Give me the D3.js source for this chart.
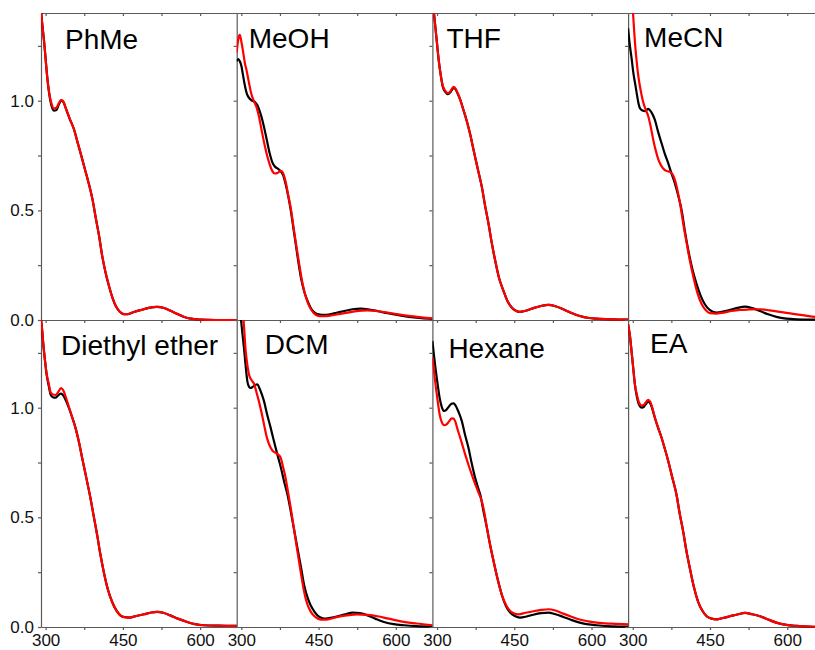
<!DOCTYPE html>
<html>
<head>
<meta charset="utf-8">
<script src="https://cdn.jsdelivr.net/npm/d3@7"></script>
<style>
  body { margin: 0; background: #fff; }
  svg { display: block; font-family: "Liberation Sans", Arial, sans-serif; }
</style>
</head>
<body>
<div id="chart"></div>
<script>
// DATA (wavelength nm, absorbance)
const solvents = ["PhMe", "MeOH", "THF", "MeCN", "Diethyl ether", "DCM", "Hexane", "EA"];

const phmeBlack = [[289,1.46],[293,1.36],[297,1.27],[300,1.19],[303,1.11],[307,1.03],[311,0.98],[316,0.955],[321,0.958],[326,0.985],[330,1.0],[334,0.995],[340,0.96],[348,0.91],[355,0.87],[362,0.81],[368,0.76],[376,0.69],[384,0.62],[391,0.55],[397,0.47],[404,0.38],[410,0.29],[416,0.22],[423,0.155],[430,0.10],[437,0.06],[444,0.038],[452,0.027],[460,0.027],[470,0.035],[484,0.045],[500,0.055],[516,0.06],[530,0.055],[542,0.043],[555,0.028],[568,0.015],[582,0.006],[600,0.002],[630,0],[672,0]];
const phmeRed = [[289,1.46],[293,1.36],[297,1.27],[300,1.19],[303,1.11],[307,1.035],[311,0.99],[316,0.965],[321,0.968],[326,0.99],[330,1.003],[334,0.998],[340,0.96],[348,0.91],[355,0.87],[362,0.81],[368,0.76],[376,0.69],[384,0.62],[391,0.55],[397,0.47],[404,0.38],[410,0.29],[416,0.22],[423,0.155],[430,0.10],[437,0.06],[444,0.038],[452,0.027],[460,0.027],[470,0.035],[484,0.045],[500,0.055],[516,0.06],[530,0.055],[542,0.043],[555,0.028],[568,0.015],[582,0.006],[600,0.002],[630,0],[672,0]];

const meohBlack = [[291,1.18],[294,1.19],[297,1.18],[300,1.16],[303,1.12],[306,1.08],[311,1.03],[316,1.01],[321,1.0],[326,0.995],[331,0.98],[336,0.95],[341,0.91],[345,0.87],[350,0.815],[355,0.76],[360,0.72],[365,0.70],[371,0.69],[377,0.677],[382,0.655],[386,0.62],[391,0.565],[396,0.50],[401,0.42],[406,0.34],[411,0.26],[416,0.19],[422,0.13],[429,0.085],[436,0.05],[443,0.033],[450,0.026],[460,0.023],[470,0.025],[485,0.033],[500,0.041],[516,0.049],[532,0.052],[548,0.048],[564,0.041],[584,0.031],[603,0.023],[630,0.013],[650,0.008],[672,0.005]];
const meohRed = [[291,1.22],[294,1.28],[297,1.30],[300,1.27],[303,1.23],[307,1.17],[310,1.14],[315,1.08],[319,1.035],[324,1.0],[329,0.974],[334,0.93],[339,0.87],[345,0.80],[350,0.75],[355,0.71],[360,0.68],[365,0.668],[371,0.672],[377,0.68],[381,0.67],[386,0.63],[391,0.57],[396,0.51],[401,0.43],[406,0.35],[412,0.26],[419,0.165],[426,0.10],[432,0.062],[440,0.033],[448,0.02],[458,0.017],[470,0.019],[485,0.025],[500,0.031],[520,0.039],[545,0.044],[565,0.04],[584,0.034],[605,0.026],[629,0.018],[650,0.012],[672,0.008]];

const thfBlack = [[290,1.48],[294,1.40],[297,1.33],[300,1.26],[303,1.19],[307,1.12],[311,1.065],[316,1.04],[321,1.03],[325,1.036],[329,1.05],[332,1.058],[336,1.052],[340,1.033],[345,1.005],[351,0.96],[358,0.905],[364,0.85],[371,0.775],[379,0.69],[387,0.607],[393,0.525],[400,0.439],[406,0.355],[413,0.27],[420,0.195],[429,0.133],[437,0.085],[445,0.057],[453,0.042],[461,0.037],[472,0.042],[487,0.054],[502,0.064],[516,0.069],[530,0.063],[545,0.049],[560,0.033],[577,0.018],[595,0.009],[610,0.006],[640,0.003],[672,0.0015]];
const thfRed = [[290,1.48],[294,1.40],[297,1.33],[300,1.26],[303,1.19],[307,1.12],[311,1.07],[316,1.045],[321,1.035],[325,1.04],[329,1.055],[332,1.063],[336,1.055],[340,1.035],[345,1.005],[351,0.96],[358,0.905],[364,0.85],[371,0.775],[379,0.69],[387,0.607],[393,0.525],[400,0.439],[406,0.355],[413,0.27],[420,0.195],[429,0.133],[437,0.085],[445,0.057],[453,0.042],[461,0.037],[472,0.042],[487,0.054],[502,0.064],[516,0.069],[530,0.063],[545,0.049],[560,0.033],[577,0.018],[595,0.009],[610,0.006],[640,0.003],[672,0.0015]];

const mecnBlack = [[291,1.33],[294,1.26],[298,1.19],[301,1.13],[304.5,1.08],[308,1.03],[311,0.99],[314,0.966],[319,0.955],[324,0.952],[327,0.958],[330,0.963],[334,0.955],[338,0.94],[343,0.913],[349,0.86],[356,0.806],[362,0.76],[369,0.714],[375,0.67],[382,0.622],[388,0.57],[395,0.50],[401,0.41],[408,0.317],[416,0.23],[424,0.164],[432,0.11],[440,0.072],[450,0.045],[463,0.034],[475,0.038],[489,0.046],[503,0.055],[518,0.061],[532,0.054],[547,0.041],[563,0.026],[579,0.014],[598,0.006],[618,0.003],[654,0.0015],[672,0.001]];
const mecnRed = [[291,1.75],[296,1.55],[300,1.42],[304.5,1.26],[308,1.17],[311,1.11],[316,1.04],[320.7,0.99],[325,0.96],[330,0.93],[335,0.88],[340,0.82],[345,0.77],[350,0.73],[355,0.705],[359.5,0.69],[365,0.68],[372,0.676],[377,0.665],[382,0.638],[387,0.59],[392,0.53],[398,0.44],[405,0.347],[411,0.27],[418,0.194],[426,0.12],[434,0.072],[442,0.045],[450,0.031],[462,0.029],[476,0.034],[492,0.041],[508,0.046],[527,0.048],[547,0.049],[566,0.044],[586,0.037],[602,0.031],[618,0.026],[636,0.02],[654,0.014],[672,0.01]];

const etherBlack = [[290,1.42],[293,1.36],[295.5,1.29],[299,1.21],[302,1.15],[306,1.10],[309.7,1.06],[314,1.048],[319,1.046],[324,1.055],[329,1.064],[333,1.06],[338,1.04],[345,1.0],[351,0.96],[358,0.908],[364,0.85],[371,0.77],[379,0.68],[387,0.588],[393,0.51],[400,0.42],[406,0.335],[413,0.25],[421,0.17],[429,0.115],[437,0.077],[445,0.053],[453,0.045],[462,0.043],[476,0.05],[491,0.058],[505,0.066],[516,0.069],[530,0.064],[542,0.053],[558,0.037],[575,0.023],[590,0.013],[607,0.008],[635,0.006],[672,0.005]];
const etherRed = [[290,1.42],[293,1.36],[295.5,1.29],[299,1.21],[302,1.155],[306,1.11],[309.7,1.07],[314,1.06],[319,1.058],[324,1.07],[330,1.089],[334,1.08],[339,1.05],[345,1.005],[351,0.96],[358,0.908],[364,0.85],[371,0.77],[379,0.68],[387,0.588],[393,0.51],[400,0.42],[406,0.335],[413,0.25],[421,0.17],[429,0.115],[437,0.077],[445,0.053],[453,0.045],[462,0.043],[476,0.05],[491,0.058],[505,0.066],[516,0.069],[530,0.064],[542,0.053],[558,0.037],[575,0.023],[590,0.013],[607,0.008],[635,0.006],[672,0.005]];

const dcmBlack = [[291,1.62],[295,1.51],[299,1.41],[302,1.34],[305,1.275],[308,1.2],[311.7,1.12],[315,1.095],[318,1.09],[322,1.095],[327,1.104],[331,1.107],[335,1.09],[340,1.06],[344,1.03],[350,0.97],[357,0.908],[363,0.85],[370,0.786],[377,0.725],[383,0.664],[390,0.60],[396,0.527],[402,0.45],[409,0.359],[416,0.27],[422,0.19],[430,0.125],[438,0.084],[447,0.055],[455,0.042],[461,0.038],[473,0.042],[487,0.049],[502,0.058],[516,0.066],[530,0.063],[545,0.053],[561,0.037],[577,0.023],[596,0.013],[616,0.008],[640,0.004],[672,0.002]];
const dcmRed = [[291,1.8],[296,1.62],[300,1.5],[304,1.41],[308.4,1.26],[312,1.19],[315,1.15],[320,1.125],[325,1.107],[330,1.065],[334,1.03],[339,0.98],[344,0.924],[350,0.86],[357,0.817],[362,0.80],[367,0.794],[372,0.785],[376.5,0.771],[381,0.73],[386,0.679],[391,0.61],[396,0.542],[402,0.45],[409,0.344],[416,0.24],[422,0.16],[428,0.105],[435,0.069],[444,0.045],[454,0.034],[465,0.034],[477,0.04],[487,0.046],[505,0.053],[525,0.058],[545,0.055],[564,0.049],[586,0.038],[610,0.026],[640,0.016],[672,0.008]];

const hexaneBlack = [[291,1.305],[294,1.24],[297,1.18],[301,1.11],[305,1.046],[309,1.005],[313,0.985],[318,0.99],[323,1.005],[328,1.018],[332,1.02],[336,1.01],[341,0.985],[348,0.94],[354,0.88],[361,0.817],[367,0.75],[374,0.68],[379,0.64],[384,0.603],[390,0.53],[397,0.45],[403,0.375],[410,0.298],[418,0.215],[426,0.145],[434,0.095],[442,0.066],[451,0.05],[461,0.043],[474,0.048],[487,0.056],[502,0.063],[516,0.066],[530,0.058],[545,0.046],[561,0.032],[577,0.02],[594,0.012],[610,0.008],[640,0.003],[672,0.0015]];
const hexaneRed = [[291,1.229],[294,1.17],[297,1.107],[301,1.035],[305,0.97],[309,0.935],[314,0.92],[319,0.925],[324,0.94],[328,0.95],[331,0.951],[335,0.94],[340,0.90],[345,0.863],[353,0.80],[361,0.74],[369,0.685],[377,0.634],[382,0.605],[387,0.573],[392,0.52],[397,0.45],[403,0.375],[410,0.298],[418,0.215],[426,0.145],[434,0.10],[442,0.073],[450,0.062],[458,0.058],[472,0.065],[487,0.072],[502,0.078],[516,0.081],[530,0.075],[545,0.061],[561,0.047],[577,0.034],[594,0.026],[610,0.02],[640,0.015],[672,0.012]];

const eaBlack = [[291,1.38],[295,1.32],[298,1.25],[301,1.18],[304,1.11],[308,1.05],[312,1.015],[317.5,1.0],[322,1.005],[326,1.018],[330,1.028],[334,1.02],[338,0.995],[343,0.954],[349,0.91],[356,0.863],[362,0.815],[369,0.756],[377,0.68],[385,0.603],[391,0.52],[398,0.435],[404,0.35],[411,0.267],[419,0.18],[427,0.115],[435,0.075],[443.5,0.049],[453,0.038],[463,0.035],[475,0.041],[489,0.049],[503,0.057],[518,0.064],[532,0.058],[547,0.049],[563,0.034],[579,0.02],[598,0.01],[618,0.005],[654,0.001],[672,0]];
const eaRed = [[291,1.38],[295,1.32],[298,1.25],[301,1.18],[304,1.11],[308,1.06],[312,1.025],[317.5,1.01],[322,1.014],[326,1.026],[330,1.036],[334,1.027],[338,1.0],[343,0.954],[349,0.91],[356,0.863],[362,0.815],[369,0.756],[377,0.68],[385,0.603],[391,0.52],[398,0.435],[404,0.35],[411,0.267],[419,0.18],[427,0.115],[435,0.075],[443.5,0.049],[453,0.038],[463,0.035],[475,0.041],[489,0.049],[503,0.057],[518,0.064],[532,0.058],[547,0.049],[563,0.034],[579,0.02],[598,0.01],[618,0.005],[654,0.001],[672,0]];

const blackSeries = [phmeBlack, meohBlack, thfBlack, mecnBlack, etherBlack, dcmBlack, hexaneBlack, eaBlack];
const redSeries = [phmeRed, meohRed, thfRed, mecnRed, etherRed, dcmRed, hexaneRed, eaRed];

const xTicks = [300, 375, 450, 525, 600];
const xTickLabels = [300, 450, 600];
const yTicks = [0, 0.25, 0.5, 0.75, 1.0, 1.25];
const yTickLabels = [0, 0.5, 1.0];

// LAYOUT
const width = 815, height = 650;
const plotLeft = 41, colW = 195.7, plotTop = 13, rowH = 307;
// title offsets inside each panel (dx from panel left, baseline from panel top)
const titlePos = [[24, 36], [12, 35], [14, 35], [16, 34], [20, 35], [28, 34], [16, 38], [22, 33]];

const x = d3.scaleLinear().domain([291, 671]).range([0, colW]);
const y = d3.scaleLinear().domain([0, 1.4]).range([rowH, 0]);

const line = d3.line()
  .x(d => x(d[0]))
  .y(d => y(d[1]))
  .curve(d3.curveMonotoneX);

const svg = d3.select("#chart").append("svg")
  .attr("width", width)
  .attr("height", height);

svg.append("rect").attr("width", width).attr("height", height).attr("fill", "#fff");

const axisColor = "#5a5a5a";

solvents.forEach((name, i) => {
  const col = i % 4, row = Math.floor(i / 4);
  const g = svg.append("g")
    .attr("transform", `translate(${plotLeft + col * colW},${plotTop + row * rowH})`);

  g.append("clipPath").attr("id", "clip" + i)
    .append("rect").attr("x", 0).attr("y", 0).attr("width", colW).attr("height", rowH + 1.5);

  // left axis
  const ya = g.append("g")
    .call(d3.axisLeft(y).tickValues(yTicks).tickSize(3).tickSizeOuter(0)
      .tickFormat(d => (col === 0 && yTickLabels.includes(d)) ? d3.format(".1f")(d) : ""));

  // bottom axis
  const xa = g.append("g")
    .attr("transform", `translate(0,${rowH})`)
    .call(d3.axisBottom(x).tickValues(xTicks).tickSize(3).tickSizeOuter(0)
      .tickFormat(d => (row === 1 && xTickLabels.includes(d)) ? d : ""));

  // top border on the first row
  let ta = null;
  if (row === 0) {
    ta = g.append("g")
      .call(d3.axisTop(x).tickValues(xTicks).tickSize(-3).tickSizeOuter(0).tickFormat(""));
  }

  [ya, xa, ta].forEach(a => {
    if (!a) return;
    a.select(".domain").attr("stroke", axisColor).attr("stroke-width", 1.2);
    a.selectAll(".tick line").attr("stroke", axisColor).attr("stroke-width", 1.2);
    a.selectAll(".tick text").attr("fill", "#111").attr("font-size", 17)
      .attr("font-family", "'Liberation Sans', Arial, sans-serif");
  });
  ya.selectAll(".tick text").attr("x", -7);
  xa.selectAll(".tick text").attr("y", 7);

  const curves = g.append("g").attr("clip-path", `url(#clip${i})`);
  curves.append("path")
    .datum(blackSeries[i])
    .attr("fill", "none")
    .attr("stroke", "#000")
    .attr("stroke-width", 2.2)
    .attr("d", line);
  curves.append("path")
    .datum(redSeries[i])
    .attr("fill", "none")
    .attr("stroke", "#ff0000")
    .attr("stroke-width", 2.2)
    .attr("d", line);

  g.append("text")
    .attr("x", titlePos[i][0])
    .attr("y", titlePos[i][1])
    .attr("font-size", 28)
    .attr("fill", "#000")
    .text(name);
});
</script>
</body>
</html>
